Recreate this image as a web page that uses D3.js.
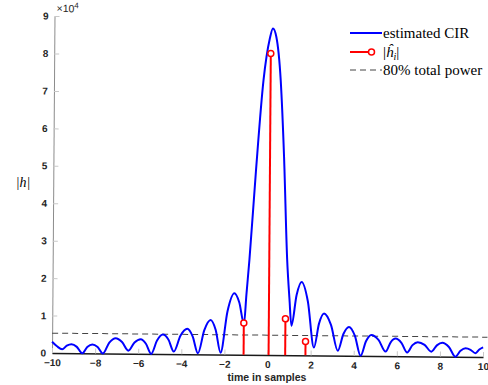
<!DOCTYPE html>
<html>
<head>
<meta charset="utf-8">
<script src="https://cdn.jsdelivr.net/npm/d3@7"></script>
<style>
  body { margin: 0; background: #fff; }
  .tick text { font-family: Arial, "Liberation Sans", sans-serif; font-size: 10px; font-weight: bold; fill: #262626; }
</style>
</head>
<body>
<div id="chart"></div>
<script>
// estimated CIR (|h|)
const cirT = [-10, -9.77, -9.53, -9.315, -9.10, -8.85, -8.60, -8.365, -8.13, -7.885, -7.64, -7.345, -7.05, -6.755, -6.46, -6.175,
  -5.89, -5.645, -5.40, -5.13, -4.86, -4.605, -4.35, -4.04, -3.73, -3.48, -3.23, -2.94, -2.65, -2.415, -2.18, -1.87,
  -1.56, -1.33, -1.10, -1.0, -0.87, -0.6, -0.28, 0.0, 0.14, 0.3, 0.52, 0.7, 0.88, 1.0, 1.10,
  1.33, 1.56, 1.855, 2.15, 2.38, 2.61, 2.935, 3.26, 3.515, 3.77, 4.045, 4.32, 4.565, 4.81, 5.145, 5.48, 5.71, 5.94,
  6.21, 6.48, 6.725, 6.97, 7.285, 7.60, 7.855, 8.11, 8.415, 8.72, 8.955, 9.19, 9.42, 9.65, 9.825, 10];
const cirV = [3000, 1800, 1000, 2000, 2400, 1700, 0, 1700, 2400, 1700, 0, 2900, 4100, 3100, 800, 3000,
  3900, 2700, 0, 3600, 5200, 3900, 700, 5000, 6800, 4800, 300, 6500, 9200, 6600, 500, 11600,
  16400, 14000, 8300, 16000, 25500, 49000, 73300, 84500, 87200, 85000, 73300, 53000, 25500, 15000, 7900,
  16100, 19600, 14400, 2100, 8500, 11200, 8200, 1300, 5800, 7700, 5400, 0, 3900, 5600, 4300, 1200, 3700, 4700,
  3600, 1000, 3000, 3800, 3100, 1300, 3000, 3700, 2600, 0, 1600, 2300, 1900, 1000, 2000, 2600];

// estimated taps
const tapT = [-1.11, 0.05, 0.82, 1.76];
const tapV = [8500, 80500, 9700, 3700];

// 80% total power threshold
const powerLevel = 5300;

const xTicks = [-10, -8, -6, -4, -2, 0, 2, 4, 6, 8, 10];
const yTicks = [0, 1, 2, 3, 4, 5, 6, 7, 8, 9].map(d => d * 1e4);

const width = 488, height = 385;
const origin = { x: 52, y: 353 };
const plotW = 431, plotH = 337;

const svg = d3.select('#chart').append('svg')
  .attr('width', width)
  .attr('height', height)
  .style('font-family', 'Arial, sans-serif');

const x = d3.scaleLinear().domain([-10, 10]).range([0, plotW]);
const y = d3.scaleLinear().domain([0, 9e4]).range([0, -plotH]);

// slight 3D view tilt of the axes
const g = svg.append('g')
  .attr('transform', `translate(${origin.x},${origin.y}) matrix(1,0.0093,-0.0074,1,0,0)`);

// y axis
const yAx = g.append('g')
  .call(d3.axisLeft(y).tickValues(yTicks).tickFormat(d => d / 1e4)
    .tickSize(-5).tickSizeOuter(0).tickPadding(6));
yAx.select('.domain').attr('stroke', '#8c8c8c');
yAx.selectAll('.tick line').attr('stroke', '#c8c8c8');

// x axis
const xAx = g.append('g')
  .call(d3.axisBottom(x).tickValues(xTicks)
    .tickSize(-5).tickSizeOuter(0).tickPadding(6));
xAx.select('.domain').attr('stroke', '#1a1a1a').attr('stroke-width', 1.6);
xAx.selectAll('.tick line').attr('stroke', '#c8c8c8');

// x10^4 exponent
const ex = g.append('text')
  .attr('x', 2)
  .attr('y', y(9e4) - 4)
  .style('font-size', '10.5px')
  .attr('fill', '#262626');
ex.append('tspan').text('\u00d710');
ex.append('tspan').attr('dy', -4).style('font-size', '8px').text('4');

// threshold
g.append('line')
  .attr('x1', x(-10)).attr('x2', x(10.2))
  .attr('y1', y(powerLevel)).attr('y2', y(powerLevel))
  .attr('stroke', '#444')
  .attr('stroke-width', 1)
  .attr('stroke-dasharray', '6,4');

// CIR curve
const line = d3.line()
  .x(d => x(d[0]))
  .y(d => y(d[1]))
  .curve(d3.curveMonotoneX);

g.append('path')
  .datum(cirT.map((t, i) => [t, cirV[i]]))
  .attr('fill', 'none')
  .attr('stroke', '#0000ff')
  .attr('stroke-width', 2)
  .attr('d', line);

// stems
const taps = tapT.map((t, i) => ({ t: t, v: tapV[i] }));
g.selectAll('.stem')
  .data(taps)
  .join('line')
  .attr('class', 'stem')
  .attr('x1', d => x(d.t)).attr('x2', d => x(d.t))
  .attr('y1', y(0)).attr('y2', d => y(d.v))
  .attr('stroke', '#ff0000')
  .attr('stroke-width', 2);

g.selectAll('.head')
  .data(taps)
  .join('circle')
  .attr('class', 'head')
  .attr('cx', d => x(d.t))
  .attr('cy', d => y(d.v))
  .attr('r', 3)
  .attr('fill', '#fff')
  .attr('stroke', '#ff0000')
  .attr('stroke-width', 1.5);

// axis labels
svg.append('text')
  .attr('x', 267)
  .attr('y', 381)
  .attr('text-anchor', 'middle')
  .style('font-size', '10.5px')
  .style('font-weight', 'bold')
  .attr('fill', '#262626')
  .text('time in samples');

svg.append('text')
  .attr('x', 23)
  .attr('y', 187)
  .attr('text-anchor', 'middle')
  .style('font-family', '"Liberation Serif", serif')
  .style('font-style', 'italic')
  .style('font-size', '14px')
  .text('|h|');

// legend
const lg = svg.append('g').style('font-family', '"Liberation Serif", serif').style('font-size', '15px');

lg.append('line').attr('x1', 350).attr('x2', 382).attr('y1', 33).attr('y2', 33)
  .attr('stroke', '#0000ff').attr('stroke-width', 2);
lg.append('text').attr('x', 383).attr('y', 38).text('estimated CIR');

lg.append('line').attr('x1', 350).attr('x2', 369).attr('y1', 52).attr('y2', 52)
  .attr('stroke', '#ff0000').attr('stroke-width', 2);
lg.append('circle').attr('cx', 371.5).attr('cy', 52).attr('r', 3)
  .attr('fill', '#fff').attr('stroke', '#ff0000').attr('stroke-width', 1.5);
const hl = lg.append('text').attr('x', 383).attr('y', 57);
hl.append('tspan').text('|');
hl.append('tspan').style('font-style', 'italic').text('h\u0302');
hl.append('tspan').style('font-style', 'italic').style('font-size', '10px').attr('dy', 3).text('i');
hl.append('tspan').attr('dy', -3).text('|');

lg.append('line').attr('x1', 350).attr('x2', 382).attr('y1', 70).attr('y2', 70)
  .attr('stroke', '#444').attr('stroke-width', 1).attr('stroke-dasharray', '6,4');
lg.append('text').attr('x', 383).attr('y', 75).text('80% total power');
</script>
</body>
</html>
